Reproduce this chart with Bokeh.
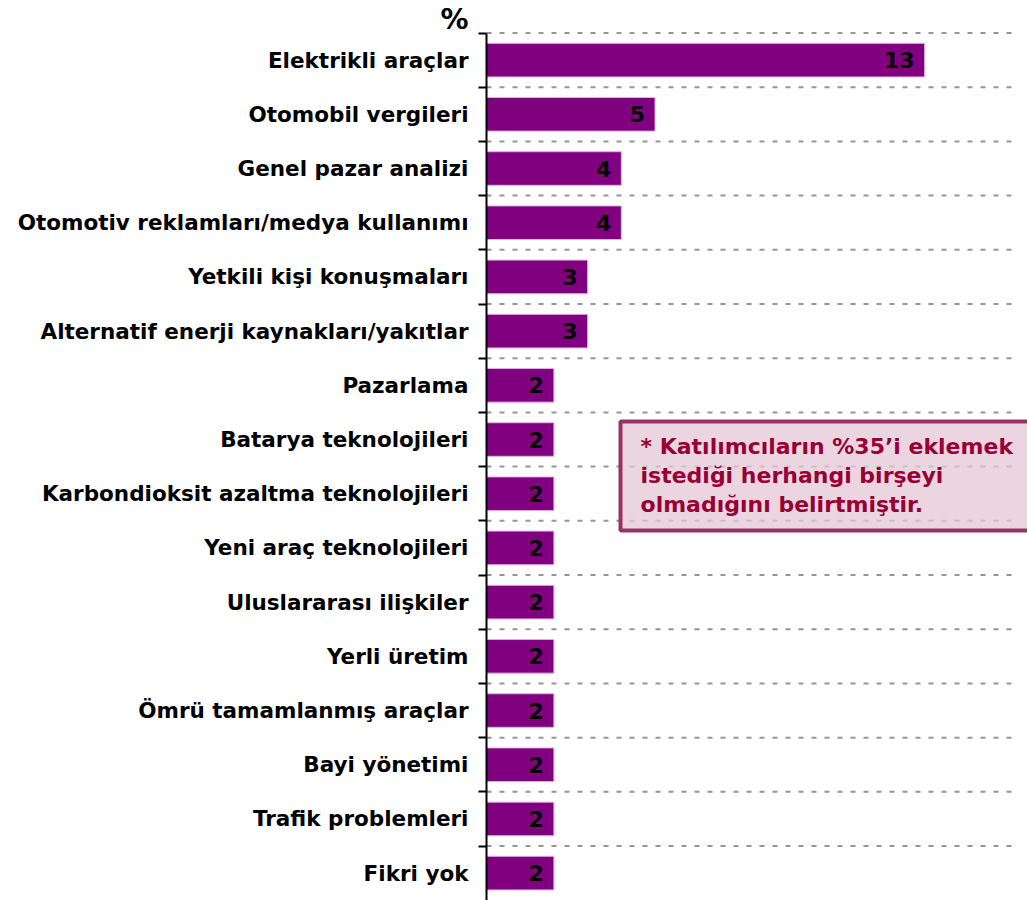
from bokeh.plotting import figure
from bokeh.models import Range1d, FixedTicker, ColumnDataSource, Label, BoxAnnotation, LabelSet
from bokeh.core.properties import value
from bokeh.embed import file_html
from bokeh.resources import INLINE

categories = [
    "Elektrikli araçlar",
    "Otomobil vergileri",
    "Genel pazar analizi",
    "Otomotiv reklamları/medya kullanımı",
    "Yetkili kişi konuşmaları",
    "Alternatif enerji kaynakları/yakıtlar",
    "Pazarlama",
    "Batarya teknolojileri",
    "Karbondioksit azaltma teknolojileri",
    "Yeni araç teknolojileri",
    "Uluslararası ilişkiler",
    "Yerli üretim",
    "Ömrü tamamlanmış araçlar",
    "Bayi yönetimi",
    "Trafik problemleri",
    "Fikri yok",
]
values = [13, 5, 4, 4, 3, 3, 2, 2, 2, 2, 2, 2, 2, 2, 2, 2]
value_labels = [str(v) for v in values]
unit_label = "%"
note_lines = [
    "* Katılımcıların %35’i eklemek",
    "istediği herhangi birşeyi",
    "olmadığını belirtmiştir.",
]

n = len(categories)
ypos = [n - 1 - i for i in range(n)]
bounds_y = [k + 0.5 for k in range(0, n)]
src = ColumnDataSource(dict(y=ypos, v=values, lab=value_labels))
grid_src = ColumnDataSource(dict(y=bounds_y))

FONT = "DejaVu Sans"
Y_TOP = 16.1
Y_BOT = -0.505
GRID_END = 15.61

p = figure(width=1027, height=900, output_backend="svg", toolbar_location=None,
           x_range=Range1d(-14.421, 16.053), y_range=Range1d(Y_BOT, Y_TOP),
           min_border_left=0, min_border_right=0, min_border_top=0, min_border_bottom=0)
p.outline_line_color = None
p.background_fill_color = "white"
p.border_fill_color = "white"
p.xaxis.visible = False
p.xgrid.grid_line_color = None
p.ygrid.grid_line_color = None

# dotted horizontal separators between categories
p.segment(x0=0, x1=GRID_END, y0="y", y1="y", source=grid_src,
          line_color="#959595", line_width=2, line_dash="5 8")

p.hbar(y="y", right="v", left=0, height=0.62, source=src,
       fill_color="#800080", line_color="#e0b0e0", line_width=1)

labels = LabelSet(x="v", y="y", text="lab", source=src, x_offset=-10,
                  text_align="right", text_baseline="middle",
                  text_font=value(FONT), text_font_style="bold", text_font_size="22px",
                  text_color="black")
p.add_layout(labels)

ax = p.yaxis[0]
ax.fixed_location = 0
ax.bounds = (Y_BOT, n - 0.5)
ax.ticker = FixedTicker(ticks=ypos, minor_ticks=bounds_y)
ax.major_label_overrides = {y: c for y, c in zip(ypos, categories)}
ax.major_tick_line_color = None
ax.major_tick_out = 0
ax.major_tick_in = 0
ax.minor_tick_line_color = "black"
ax.minor_tick_line_width = 2
ax.minor_tick_out = 8
ax.minor_tick_in = 0
ax.axis_line_color = "black"
ax.axis_line_width = 2
ax.major_label_standoff = 10
ax.major_label_text_font = FONT
ax.major_label_text_font_style = "bold"
ax.major_label_text_font_size = "21.5px"
ax.major_label_text_color = "black"

p.add_layout(Label(x=-0.534, y=15.757, text=unit_label, text_align="right",
                   text_baseline="alphabetic", text_font=FONT, text_font_style="bold",
                   text_font_size="28px", text_color="black"))

box = BoxAnnotation(left=3.976, right=17, top=8.332, bottom=6.321,
                    fill_color="#e3c7d6", fill_alpha=0.75,
                    line_color="#993366", line_width=4, line_alpha=1)
p.add_layout(box)

for txt, yb in zip(note_lines, [7.872, 7.337, 6.801]):
    p.add_layout(Label(x=4.57, y=yb, text=txt, text_align="left", text_baseline="alphabetic",
                       text_font=FONT, text_font_style="bold", text_font_size="22px",
                       text_color="#990033"))

open("out.html", "w").write(file_html(p, INLINE))
